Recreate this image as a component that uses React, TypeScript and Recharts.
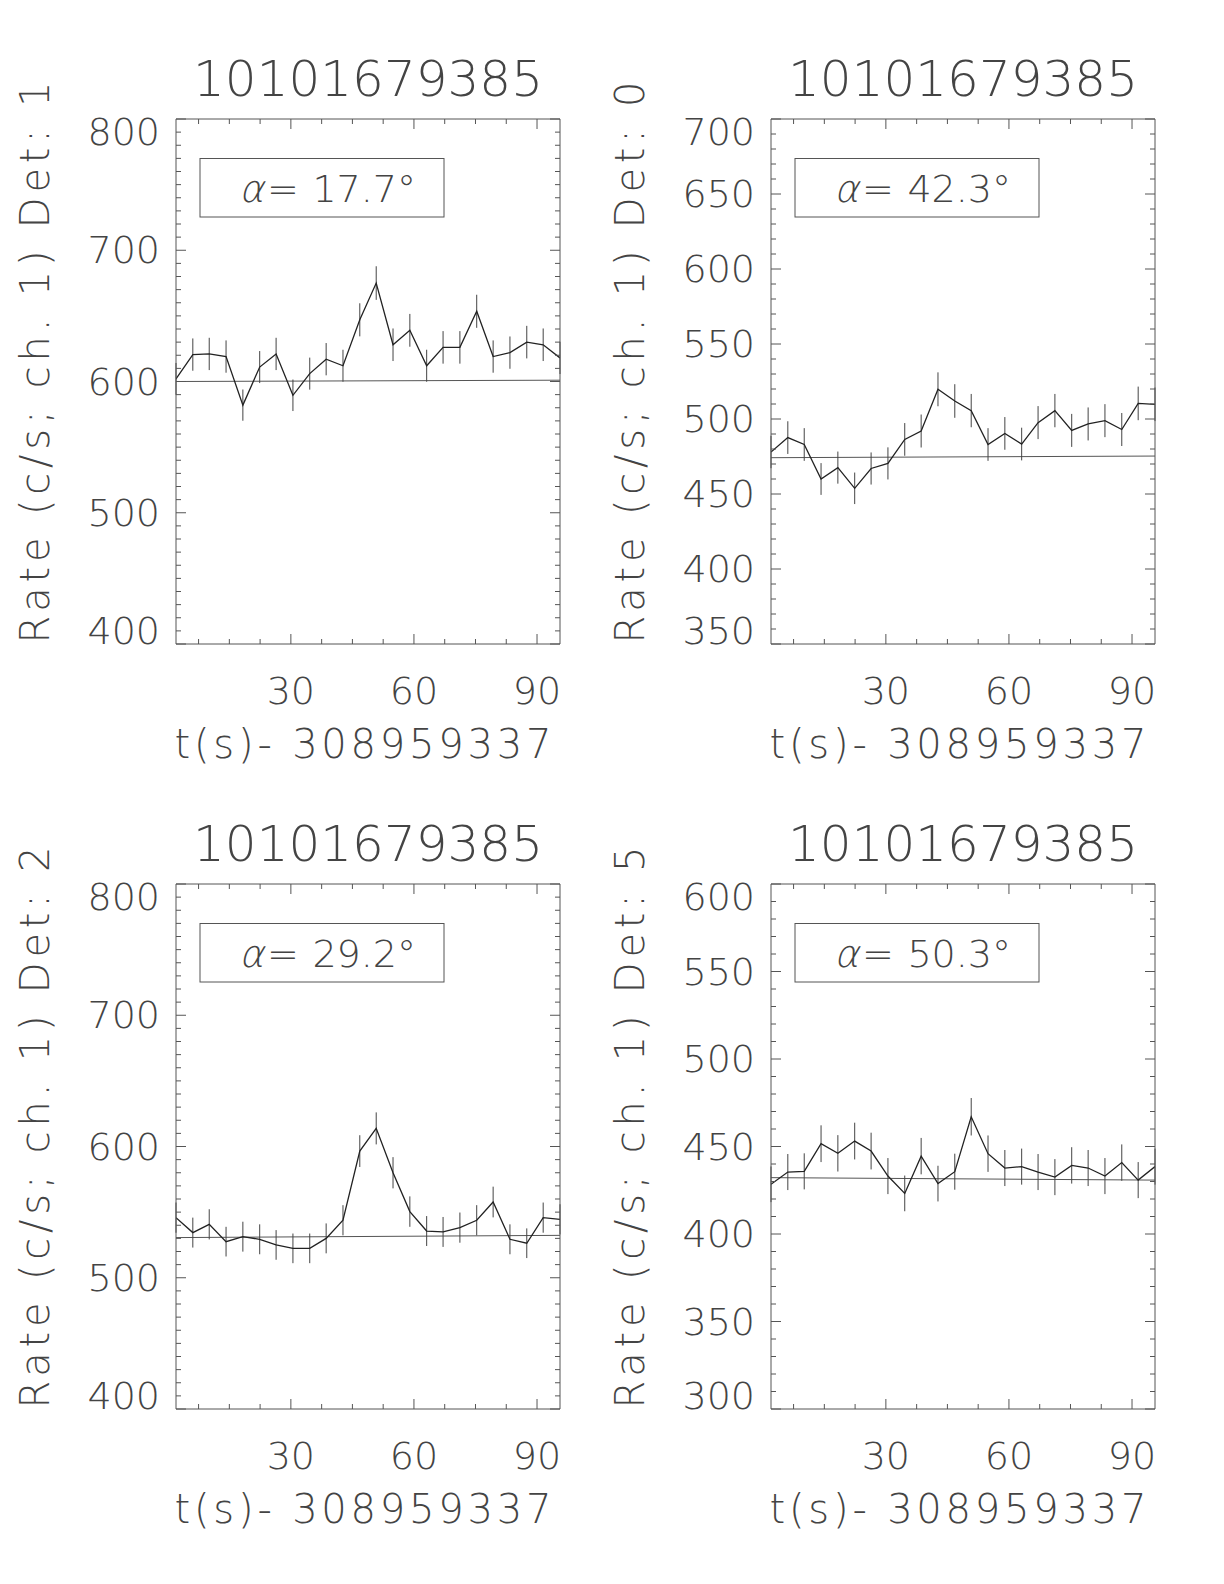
import React from 'react';
import { LineChart, Line, XAxis, YAxis, ErrorBar, Label } from 'recharts';

// time bins (s after T0) and tick values
const TIMES = [2.0, 6.1, 10.1, 14.2, 18.3, 22.4, 26.4, 30.5, 34.6, 38.6, 42.7, 46.8, 50.8, 54.9, 59.0, 63.1, 67.1, 71.2, 75.3, 79.3, 83.4, 87.5, 91.5, 95.6];
const T_START = 2.0;
const T_END = 95.6;
const X_MAJOR = [30, 60, 90];
const X_MINOR = [7.5, 15, 22.5, 37.5, 45, 52.5, 67.5, 75, 82.5];

const OBS_ID = '10101679385';
const T_ZERO = '308959337';

// Det 1
const RATE_DET1 = [602, 620.5, 621, 619, 582, 611, 621, 589.5, 606, 617, 612, 647, 675, 628, 639, 612, 626, 626, 653.5, 619, 622, 630, 628, 618];
const ERR_DET1 = [12.1, 12.3, 12.3, 12.3, 11.9, 12.2, 12.3, 12.0, 12.2, 12.3, 12.2, 12.6, 12.8, 12.4, 12.5, 12.2, 12.4, 12.4, 12.6, 12.3, 12.3, 12.4, 12.4, 12.3];
const BG_DET1 = [600, 601];

// Det 0
const RATE_DET0 = [478, 487.6, 483, 460, 467.6, 453.8, 467, 470.4, 486.4, 492, 519.8, 512, 505.6, 483, 490.4, 483.3, 497.6, 505.6, 492.4, 496.7, 498.9, 493, 510.4, 509.8];
const ERR_DET0 = [10.8, 10.9, 10.9, 10.6, 10.7, 10.5, 10.7, 10.7, 10.9, 11.0, 11.3, 11.2, 11.1, 10.9, 10.9, 10.9, 11.0, 11.1, 11.0, 11.0, 11.0, 11.0, 11.2, 11.2];
const BG_DET0 = [474.2, 475.3];

// Det 2
const RATE_DET2 = [545.8, 534.4, 540.7, 527.5, 531.3, 529.3, 525, 522.4, 522.4, 530, 543.8, 596.5, 613.8, 580, 550.4, 535.6, 534.9, 538.2, 543.8, 557.7, 529.3, 526.3, 545.8, 544.5];
const ERR_DET2 = [11.5, 11.4, 11.5, 11.3, 11.4, 11.4, 11.3, 11.3, 11.3, 11.4, 11.5, 12.1, 12.2, 11.9, 11.6, 11.4, 11.4, 11.5, 11.5, 11.7, 11.4, 11.3, 11.5, 11.5];
const BG_DET2 = [530.6, 532.3];

// Det 5
const RATE_DET5 = [428.4, 435.4, 435.8, 451.6, 446.1, 453.1, 447.4, 433.1, 423.2, 444.5, 428.8, 435.6, 467, 445.9, 437.7, 438.5, 435.4, 432.5, 439.2, 437.7, 433.1, 440.8, 430.8, 438.5];
const ERR_DET5 = [10.2, 10.3, 10.3, 10.5, 10.4, 10.5, 10.5, 10.3, 10.2, 10.4, 10.2, 10.3, 10.7, 10.4, 10.3, 10.3, 10.3, 10.3, 10.4, 10.3, 10.3, 10.4, 10.3, 10.3];
const BG_DET5 = [432.2, 430.8];

const Y_MAJOR_400_800 = [400, 500, 600, 700, 800];
const Y_MAJOR_350_700 = [350, 400, 450, 500, 550, 600, 650, 700];
const Y_MAJOR_300_600 = [300, 350, 400, 450, 500, 550, 600];

const FONT = '"DejaVu Sans", "Liberation Sans", sans-serif';
const TXT = '#444';
const FRAME = '#555';
const MAJ_LEN = 10;
const MIN_LEN = 5;

const minorTicks = (lo: number, hi: number, major: number[]) => {
  const out: number[] = [];
  for (let v = lo + 10; v < hi; v += 10) if (!major.includes(v)) out.push(v);
  return out;
};

// ticks point inward like the original (IDL style); side tells which way is "in"
const makeTick = (side: 'bottom' | 'top' | 'left' | 'right', major: number[], lo?: number, hi?: number) =>
  (props: any) => {
    const { x, y, payload } = props;
    const v = payload.value;
    const isMajor = major.includes(v);
    const len = isMajor ? MAJ_LEN : MIN_LEN;
    let line;
    if (side === 'bottom') line = <line x1={x} x2={x} y1={y} y2={y - len} stroke={FRAME} />;
    else if (side === 'top') line = <line x1={x} x2={x} y1={y} y2={y + len} stroke={FRAME} />;
    else if (side === 'left') line = <line x1={x} x2={x + len} y1={y} y2={y} stroke={FRAME} />;
    else line = <line x1={x} x2={x - len} y1={y} y2={y} stroke={FRAME} />;

    let label = null;
    if (isMajor && side === 'bottom') {
      label = (
        <text x={x} y={y + 47} textAnchor="middle" dominantBaseline="central"
          fontFamily={FONT} fontWeight={200} fontSize={38} fill={TXT}>{v}</text>
      );
    }
    if (isMajor && side === 'left') {
      let dy = 0;
      if (v === hi) dy = 13;
      if (v === lo) dy = -13;
      label = (
        <text x={x - 16} y={y + dy} textAnchor="end" dominantBaseline="central"
          fontFamily={FONT} fontWeight={200} fontSize={38} fill={TXT}>{v}</text>
      );
    }
    return <g>{line}{label}</g>;
  };

const TopAnnot = ({ viewBox, alpha }: any) => {
  const { x, y, width, height } = viewBox;
  const top = y + height;
  const txt = { fontFamily: FONT, fontWeight: 200, fontSize: 38, fill: TXT, dominantBaseline: 'central' as const };
  return (
    <g>
      <text x={x + width / 2} y={top - 40} textAnchor="middle" dominantBaseline="central"
        fontFamily={FONT} fontWeight={200} fontSize={50} fill={TXT}>
        {OBS_ID}
      </text>
      <rect x={x + 24} y={top + 39.5} width={244} height={58.5} fill="none" stroke={FRAME} strokeWidth={1} />
      <g transform={`translate(${x + 66}, ${top + 70}) skewX(-14)`}>
        <text x={0} y={0} textAnchor="start" {...txt}>α</text>
      </g>
      <text x={x + 91} y={top + 70} textAnchor="start" {...txt}>=</text>
      <text x={x + 240} y={top + 70} textAnchor="end" {...txt}>{alpha + '°'}</text>
    </g>
  );
};

const XTitle = ({ viewBox }: any) => {
  const { x, y, width } = viewBox;
  return (
    <text x={x + width / 2 - 5} y={y + 100} textAnchor="middle" dominantBaseline="central"
      fontFamily={FONT} fontWeight={200} fontSize={40} fill={TXT}
      textLength={377} lengthAdjust="spacing">
      {'t(s)- ' + T_ZERO}
    </text>
  );
};

const YTitle = ({ viewBox, det }: any) => {
  const { x, y, width, height } = viewBox;
  const cx = x + width - 141;
  const cy = y + height / 2 - 19;
  return (
    <text x={cx} y={cy} transform={`rotate(-90, ${cx}, ${cy})`} textAnchor="middle" dominantBaseline="central"
      fontFamily={FONT} fontWeight={200} fontSize={40} fill={TXT}
      textLength={562} lengthAdjust="spacing">
      {'Rate (c/s; ch. 1) Det: ' + det}
    </text>
  );
};

type PanelProps = {
  pageX: number;
  pageY: number;
  det: string;
  alpha: string;
  rate: number[];
  err: number[];
  bg: number[];
  yLo: number;
  yHi: number;
  yMajor: number[];
};

const Panel = ({ pageX, pageY, det, alpha, rate, err, bg, yLo, yHi, yMajor }: PanelProps) => {
  const rows = TIMES.map((t, i) => ({ t, rate: rate[i], err: err[i] }));
  const bgRows = [{ t: T_START, bg: bg[0] }, { t: T_END, bg: bg[1] }];
  const yTicks = [...yMajor, ...minorTicks(yLo, yHi, yMajor)];
  const xTicks = [...X_MAJOR, ...X_MINOR];
  const xDom: [number, number] = [T_START, T_END];
  const yDom: [number, number] = [yLo, yHi];
  const common = {
    type: 'number' as const, allowDataOverflow: true, interval: 0 as const,
    tickLine: false, tickSize: 0, tickMargin: 0, axisLine: { stroke: FRAME },
  };

  return (
    <div style={{ position: 'absolute', left: pageX, top: pageY }}>
      <LineChart width={600} height={780} data={rows} margin={{ top: 118, left: 175, right: 39, bottom: 135 }}>
        <XAxis xAxisId="x" dataKey="t" {...common} domain={xDom} height={1} ticks={xTicks}
          tick={makeTick('bottom', X_MAJOR)}>
          <Label content={(p: any) => <XTitle {...p} />} />
        </XAxis>
        <XAxis xAxisId="xt" dataKey="t" orientation="top" {...common} domain={xDom} height={1} ticks={xTicks}
          tick={makeTick('top', X_MAJOR)}>
          <Label content={(p: any) => <TopAnnot {...p} alpha={alpha} />} />
        </XAxis>
        <YAxis yAxisId="y" {...common} domain={yDom} width={1} ticks={yTicks}
          tick={makeTick('left', yMajor, yLo, yHi)}>
          <Label content={(p: any) => <YTitle {...p} det={det} />} />
        </YAxis>
        <YAxis yAxisId="yr" orientation="right" {...common} domain={yDom} width={1} ticks={yTicks}
          tick={makeTick('right', yMajor)} />

        <Line xAxisId="x" yAxisId="y" data={bgRows} dataKey="bg" type="linear" stroke="#555" strokeWidth={1}
          dot={false} activeDot={false} isAnimationActive={false} />
        <Line xAxisId="x" yAxisId="y" dataKey="rate" type="linear" stroke="#222" strokeWidth={1.3}
          dot={false} activeDot={false} isAnimationActive={false}>
          <ErrorBar dataKey="err" direction="y" width={0} stroke="#444" strokeWidth={1} isAnimationActive={false} />
        </Line>
      </LineChart>
    </div>
  );
};

export default function App() {
  return (
    <div style={{ position: 'absolute', left: 0, top: 0, width: 1224, height: 1584, background: '#fff' }}>
      <Panel pageX={0} pageY={0} det="1" alpha="17.7" rate={RATE_DET1} err={ERR_DET1} bg={BG_DET1}
        yLo={400} yHi={800} yMajor={Y_MAJOR_400_800} />
      <Panel pageX={595} pageY={0} det="0" alpha="42.3" rate={RATE_DET0} err={ERR_DET0} bg={BG_DET0}
        yLo={350} yHi={700} yMajor={Y_MAJOR_350_700} />
      <Panel pageX={0} pageY={765} det="2" alpha="29.2" rate={RATE_DET2} err={ERR_DET2} bg={BG_DET2}
        yLo={400} yHi={800} yMajor={Y_MAJOR_400_800} />
      <Panel pageX={595} pageY={765} det="5" alpha="50.3" rate={RATE_DET5} err={ERR_DET5} bg={BG_DET5}
        yLo={300} yHi={600} yMajor={Y_MAJOR_300_600} />
    </div>
  );
}
